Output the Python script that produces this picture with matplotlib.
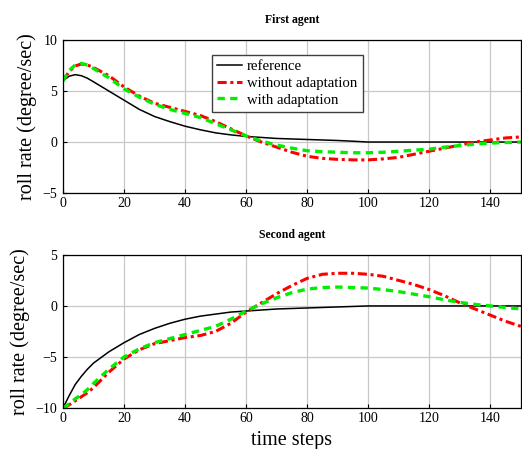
import matplotlib.pyplot as plt

plt.rcParams["font.family"] = ["Liberation Serif", "DejaVu Serif"]
plt.rcParams["mathtext.fontset"] = "stix"

# time samples
t = [0, 2, 4, 6, 8, 10, 15, 20, 25, 30, 35, 40, 45, 50, 55, 60, 65, 70, 75, 80, 85,
     90, 95, 100, 105, 110, 115, 120, 125, 130, 135, 140, 145, 150]

# first agent
ref1 = [6.0, 6.45, 6.6, 6.5, 6.25, 5.9, 5.0, 4.1, 3.2, 2.5, 2.0, 1.55, 1.2, 0.9, 0.7, 0.55,
        0.45, 0.35, 0.3, 0.25, 0.2, 0.15, 0.08, 0.0, 0.0, 0.0, 0.0, 0.0, 0.0, 0.0, 0.0,
        0.0, 0.0, 0.0]
noad1 = [6.0, 6.9, 7.45, 7.65, 7.55, 7.3, 6.5, 5.4, 4.5, 3.8, 3.4, 3.0, 2.6, 2.0, 1.3, 0.6,
         0.0, -0.5, -1.0, -1.4, -1.6, -1.7, -1.75, -1.75, -1.65, -1.5, -1.2, -0.9, -0.6,
         -0.3, 0.0, 0.2, 0.4, 0.5]
ad1 = [6.0, 7.0, 7.55, 7.7, 7.55, 7.2, 6.3, 5.2, 4.4, 3.7, 3.2, 2.8, 2.4, 1.8, 1.2, 0.6,
       0.1, -0.3, -0.6, -0.85, -0.95, -1.0, -1.05, -1.05, -1.0, -0.9, -0.8, -0.7, -0.5,
       -0.35, -0.2, -0.1, -0.05, 0.0]

# second agent
ref2 = [-10.0, -8.8, -7.7, -6.9, -6.2, -5.6, -4.5, -3.6, -2.8, -2.2, -1.7, -1.3, -1.0,
        -0.8, -0.6, -0.5, -0.4, -0.3, -0.25, -0.2, -0.15, -0.1, -0.05, 0.0, 0.0, 0.0,
        0.0, 0.0, 0.0, 0.0, 0.0, 0.0, 0.0, 0.0]
noad2 = [-10.0, -9.7, -9.3, -8.9, -8.5, -8.0, -6.5, -5.2, -4.3, -3.7, -3.4, -3.1, -2.9,
         -2.5, -1.7, -0.6, 0.3, 1.2, 2.0, 2.7, 3.1, 3.2, 3.2, 3.1, 2.9, 2.5, 2.1, 1.6,
         1.0, 0.3, -0.3, -0.9, -1.5, -2.0]
ad2 = [-10.0, -9.6, -9.1, -8.7, -8.2, -7.6, -6.2, -5.0, -4.2, -3.6, -3.2, -2.8, -2.4,
       -2.0, -1.3, -0.5, 0.2, 0.8, 1.3, 1.65, 1.8, 1.85, 1.8, 1.75, 1.6, 1.4, 1.15, 0.9,
       0.6, 0.35, 0.15, 0.0, -0.15, -0.3]

labels = ["reference", "without adaptation", "with adaptation"]
titles = ["First agent", "Second agent"]
ylims = [(-5, 10), (-10, 5)]
yticks = [[-5, 0, 5, 10], [-10, -5, 0, 5]]
xticks = [0, 20, 40, 60, 80, 100, 120, 140]

fig = plt.figure(figsize=(5.22, 4.49), dpi=100)
ax1 = fig.add_axes([0.1207, 0.570, 0.877, 0.341])
ax2 = fig.add_axes([0.1207, 0.0913, 0.877, 0.341])

for ax, ref, noad, ad, title, ylim, yt in zip(
    [ax1, ax2], [ref1, ref2], [noad1, noad2], [ad1, ad2], titles, ylims, yticks
):
    ax.plot(t, ref, color="black", lw=1.1, label=labels[0])
    ax.plot(t, noad, color="red", lw=2.2, linestyle=(0, (3, 1.2, 1, 1.2)), label=labels[1])
    ax.plot(t, ad, color="#00ee00", lw=2.4, linestyle=(0, (2.2, 1.6)), label=labels[2])
    ax.set_xlim(0, 150)
    ax.set_ylim(*ylim)
    ax.set_xticks(xticks)
    ax.set_yticks(yt)
    ax.grid(True, color="#c8c8c8", lw=0.9)
    ax.set_axisbelow(True)
    ax.tick_params(direction="in", labelsize=10, length=3)
    ax.tick_params(axis="y", pad=4)
    ax.tick_params(axis="x", pad=3)
    ax.set_title(title, fontsize=8.5, fontweight="bold", pad=12)
    ax.set_ylabel("roll rate (degree/sec)", fontsize=14.5, labelpad=4)
    for s in ax.spines.values():
        s.set_linewidth(0.9)

ax2.set_xlabel("time steps", fontsize=14.5, labelpad=4)
ax1.legend(loc="upper left", bbox_to_anchor=(0.325, 0.902), borderaxespad=0,
           fontsize=10.6, fancybox=False, framealpha=1, edgecolor="#404040",
           handlelength=1.7, borderpad=0.35, labelspacing=0.22, handletextpad=0.35)

fig.savefig("out.png", dpi=100)
